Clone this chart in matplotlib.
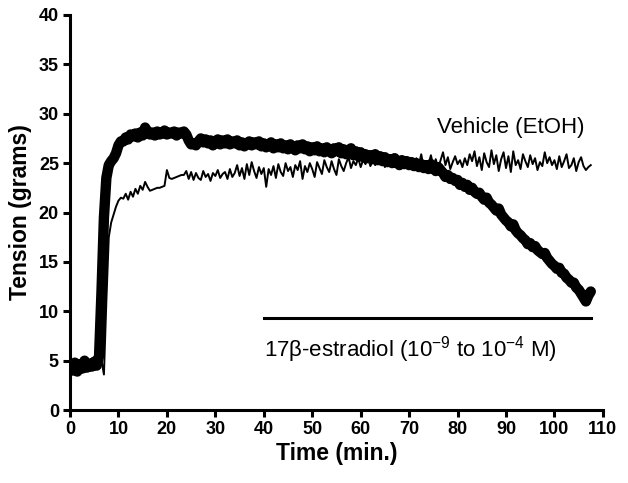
import matplotlib
matplotlib.use("Agg")
import matplotlib.pyplot as plt
import numpy as np

plt.rcParams['font.family'] = ['Liberation Sans', 'DejaVu Sans']
plt.rcParams['mathtext.fontset'] = 'custom'
plt.rcParams['mathtext.rm'] = 'Liberation Sans'
plt.rcParams['mathtext.it'] = 'Liberation Sans:italic'

# sample times (min), every half minute
time_min = [
    0.0, 0.5, 1.0, 1.5, 2.0, 2.5, 3.0, 3.5, 4.0, 4.5, 5.0, 5.5, 6.0, 6.5, 7.0, 7.5, 8.0, 8.5, 9.0, 9.5,
    10.0, 10.5, 11.0, 11.5, 12.0, 12.5, 13.0, 13.5, 14.0, 14.5, 15.0, 15.5, 16.0, 16.5, 17.0, 17.5, 18.0, 18.5, 19.0, 19.5,
    20.0, 20.5, 21.0, 21.5, 22.0, 22.5, 23.0, 23.5, 24.0, 24.5, 25.0, 25.5, 26.0, 26.5, 27.0, 27.5, 28.0, 28.5, 29.0, 29.5,
    30.0, 30.5, 31.0, 31.5, 32.0, 32.5, 33.0, 33.5, 34.0, 34.5, 35.0, 35.5, 36.0, 36.5, 37.0, 37.5, 38.0, 38.5, 39.0, 39.5,
    40.0, 40.5, 41.0, 41.5, 42.0, 42.5, 43.0, 43.5, 44.0, 44.5, 45.0, 45.5, 46.0, 46.5, 47.0, 47.5, 48.0, 48.5, 49.0, 49.5,
    50.0, 50.5, 51.0, 51.5, 52.0, 52.5, 53.0, 53.5, 54.0, 54.5, 55.0, 55.5, 56.0, 56.5, 57.0, 57.5, 58.0, 58.5, 59.0, 59.5,
    60.0, 60.5, 61.0, 61.5, 62.0, 62.5, 63.0, 63.5, 64.0, 64.5, 65.0, 65.5, 66.0, 66.5, 67.0, 67.5, 68.0, 68.5, 69.0, 69.5,
    70.0, 70.5, 71.0, 71.5, 72.0, 72.5, 73.0, 73.5, 74.0, 74.5, 75.0, 75.5, 76.0, 76.5, 77.0, 77.5, 78.0, 78.5, 79.0, 79.5,
    80.0, 80.5, 81.0, 81.5, 82.0, 82.5, 83.0, 83.5, 84.0, 84.5, 85.0, 85.5, 86.0, 86.5, 87.0, 87.5, 88.0, 88.5, 89.0, 89.5,
    90.0, 90.5, 91.0, 91.5, 92.0, 92.5, 93.0, 93.5, 94.0, 94.5, 95.0, 95.5, 96.0, 96.5, 97.0, 97.5, 98.0, 98.5, 99.0, 99.5,
    100.0, 100.5, 101.0, 101.5, 102.0, 102.5, 103.0, 103.5, 104.0, 104.5, 105.0, 105.5, 106.0, 106.5, 107.0, 107.5,
]

# 17beta-estradiol trace (thick line)
estradiol = [
    4.5, 4.0, 4.8, 3.9, 4.6, 4.2, 5.0, 4.3, 4.7, 4.4, 4.9, 4.5, 5.5, 12.0, 19.5, 23.5, 24.8, 25.2, 25.5, 26.0,
    26.8, 27.2, 27.2, 27.6, 27.4, 27.9, 27.7, 28.0, 27.6, 28.1, 27.8, 28.6, 28.2, 27.9, 28.1, 27.8, 28.2, 27.9, 28.0, 28.3,
    27.9, 28.1, 28.0, 28.2, 27.8, 28.1, 28.0, 28.2, 27.9, 27.3, 26.9, 27.0, 26.8, 27.2, 27.5, 27.1, 27.4, 27.0, 27.3, 26.8,
    27.2, 27.4, 26.9, 27.3, 27.0, 27.4, 26.9, 27.2, 27.0, 27.3, 26.8, 27.1, 26.7, 27.0, 27.2, 26.8, 27.1, 26.9, 27.2, 26.7,
    27.0, 26.6, 26.9, 27.1, 26.5, 26.9, 26.6, 27.0, 26.5, 26.8, 26.4, 26.9, 26.6, 26.3, 26.8, 26.5, 26.9, 26.4, 26.7, 26.2,
    26.6, 26.3, 26.7, 26.2, 26.5, 26.1, 26.6, 26.3, 26.0, 26.5, 26.2, 26.6, 26.0, 26.4, 25.9, 26.3, 26.5, 25.8, 26.2, 25.7,
    26.1, 25.6, 25.9, 25.5, 25.8, 25.4, 25.9, 25.3, 25.7, 25.2, 25.6, 25.1, 25.4, 25.0, 25.5, 25.1, 24.8, 25.3, 24.9, 25.2,
    24.8, 25.1, 24.7, 25.0, 24.6, 24.9, 24.5, 24.8, 24.4, 24.9, 24.5, 24.2, 24.6, 24.3, 24.0, 23.6, 23.8, 23.4, 23.5, 23.2,
    23.3, 22.8, 23.0, 22.6, 22.8, 22.3, 22.5, 22.1, 21.9, 22.0, 21.6, 21.3, 21.5, 21.0, 20.8, 20.5, 20.2, 20.4, 19.8, 19.5,
    19.2, 19.0, 18.6, 18.8, 18.2, 17.9, 17.7, 17.4, 17.2, 16.8, 16.9, 16.5, 16.6, 16.2, 16.0, 15.8, 15.9, 15.4, 15.1, 14.8,
    14.6, 14.3, 14.4, 13.9, 13.8, 13.4, 13.2, 12.9, 12.9, 12.4, 12.2, 11.8, 11.4, 11.0, 11.6, 12.0,
]

# vehicle (EtOH) trace (thin line)
vehicle = [
    4.8, 4.3, 4.9, 4.4, 5.0, 4.6, 4.9, 4.5, 4.8, 4.6, 4.9, 5.0, 5.1, 5.0, 3.6, 11.0, 17.5, 19.0, 19.8, 20.6,
    21.2, 21.5, 21.4, 21.9, 21.3, 22.1, 21.6, 22.4, 21.9, 22.7, 22.3, 23.1, 22.6, 22.2, 22.3, 22.4, 22.5, 22.5, 22.6, 22.7,
    24.3, 23.5, 23.4, 23.5, 23.6, 23.7, 23.8, 23.8, 24.2, 23.4, 24.1, 23.3, 24.0, 23.5, 23.3, 24.2, 23.6, 23.9, 23.2, 24.0,
    23.7, 24.3, 23.5, 23.9, 24.1, 23.4, 24.4, 23.6, 24.0, 24.8, 23.7, 24.5, 23.4, 24.9, 23.8, 25.1, 24.2, 23.5, 24.6, 23.9,
    24.5, 22.6, 24.4, 23.8, 24.7, 23.5, 24.9, 24.1, 23.7, 25.0, 24.2, 24.6, 23.6, 24.8, 24.3, 25.2, 23.4, 24.7, 24.1, 25.0,
    24.4, 23.6, 25.1, 24.5, 23.9, 25.3, 24.6, 24.1, 25.2, 24.4, 23.8, 25.4, 24.7, 24.2, 25.0, 25.6, 24.5, 25.2, 24.8, 25.5,
    24.6, 25.3, 24.9, 25.6, 24.7, 25.2, 24.8, 25.5, 24.9, 25.3, 24.6, 25.4, 24.9, 25.7, 24.8, 25.2, 24.5, 25.4, 24.9, 25.6,
    24.7, 25.3, 24.6, 25.5, 24.8, 25.9, 24.6, 25.2, 24.9, 25.8, 24.7, 25.4, 24.5, 25.3, 26.1, 24.8, 25.6, 24.4, 25.1, 25.7,
    24.9, 25.3, 24.6, 25.5, 24.8, 25.9, 25.2, 26.2, 24.7, 25.6, 24.3, 26.0, 25.1, 24.6, 26.3, 24.9, 25.8, 24.2, 25.4, 26.1,
    24.5, 25.7, 24.1, 26.2, 24.8, 25.3, 24.4, 25.9, 25.2, 24.6, 25.8, 24.9, 25.5, 24.3, 25.1, 24.7, 26.1, 25.0, 25.6, 24.8,
    25.3, 24.4, 25.7, 24.6, 25.2, 25.9, 24.5, 24.8, 25.5, 24.2, 25.1, 25.6, 24.7, 24.3, 24.6, 24.8,
]

# treatment period bar
bar_start = 40
bar_end = 107.5
bar_level = 9.3

fig = plt.figure(figsize=(6.28, 4.83), dpi=100)
ax = fig.add_axes([0.1115, 0.151, 0.8485, 0.818])

ax.plot(time_min, vehicle, color='black', linewidth=1.4, zorder=2)
ax.plot(time_min, estradiol, color='black', linewidth=7.5, solid_capstyle='round',
        solid_joinstyle='round', zorder=3)

ax.plot([bar_start, bar_end], [bar_level, bar_level], color='black', linewidth=2.2,
        clip_on=False)
ax.text(bar_start, 6.1, '17β-estradiol (10$^{-9}$ to 10$^{-4}$ M)',
        fontsize=16, ha='left', va='center')
ax.text(75.8, 28.6, 'Vehicle (EtOH)', fontsize=16, ha='left', va='center')

ax.set_xlim(0, 110)
ax.set_ylim(0, 40)
ax.set_xticks(np.arange(0, 111, 10))
ax.set_yticks(np.arange(0, 41, 5))

for side in ['top', 'right']:
    ax.spines[side].set_visible(False)
for side in ['left', 'bottom']:
    ax.spines[side].set_linewidth(2.2)

ax.tick_params(axis='both', direction='out', length=5, width=2.2, labelsize=13, pad=3)
for lab in ax.get_xticklabels() + ax.get_yticklabels():
    lab.set_fontweight('bold')

ax.set_xlabel('Time (min.)', fontsize=16.5, fontweight='bold', labelpad=3)
ax.set_ylabel('Tension (grams)', fontsize=16.5, fontweight='bold', labelpad=5)

fig.savefig('out.png', dpi=100)
